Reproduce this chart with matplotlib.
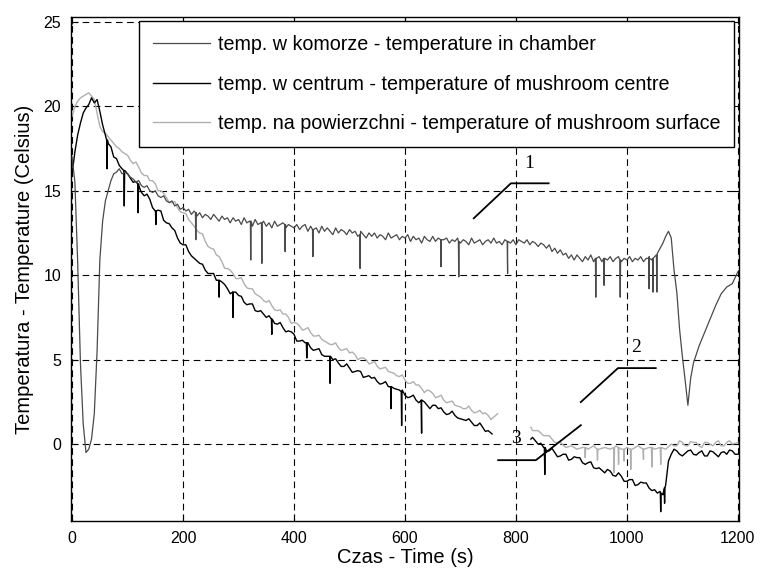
import matplotlib
matplotlib.use("Agg")
import matplotlib.pyplot as plt

# time axis (s) and readings (deg C)
chamber_t = ([0, 5, 10, 15, 20, 25, 30, 35, 40, 45, 50, 55, 60, 65, 70, 75, 80, 85, 90, 95]
             + list(range(100, 1051, 5))
             + [1055, 1060, 1065, 1070, 1075, 1080, 1085, 1090, 1095, 1100, 1105, 1110,
                1115, 1120, 1125, 1130, 1140, 1150, 1160, 1170, 1180, 1190, 1200])
chamber_v = [17.0, 15.5, 10.8, 4.8, 1.2, -0.5, -0.3, 0.3, 1.8, 5.5, 10.9, 13.2, 14.4, 15.0, 15.6,
             16.0, 16.1, 16.3, 16.0, 16.1,
             16.0, 15.8, 15.7, 15.5, 15.6, 15.3, 15.2, 15.3, 15.0, 14.9,
             15.0, 14.7, 14.6, 14.7, 14.4, 14.3, 14.4, 14.1, 14.2, 13.9,
             14.0, 13.8, 13.9, 13.6, 13.8, 13.5, 13.7, 13.4, 13.6, 13.5,
             13.3, 13.6, 13.4, 13.2, 13.5, 13.3, 13.4, 13.1, 13.4, 13.2,
             13.3, 13.0, 13.4, 13.1, 13.2, 12.9, 13.3, 13.0, 13.1, 13.2,
             12.9, 13.1, 12.8, 13.2, 12.9, 13.0, 13.1, 12.8, 13.0, 12.9,
             12.8, 13.0, 12.7, 12.9, 13.0, 12.6, 12.9, 12.7, 12.8, 12.5,
             12.9, 12.6, 12.8, 12.6, 12.4, 12.8, 12.5, 12.7, 12.6, 12.4,
             12.7, 12.5, 12.6, 12.3, 12.6, 12.4, 12.2, 12.5, 12.3, 12.5,
             12.2, 12.4, 12.3, 12.1, 12.5, 12.2, 12.3, 12.4, 12.1, 12.3,
             12.2, 12.4, 12.0, 12.3, 12.1, 12.2, 11.9, 12.3, 12.1, 12.0,
             12.3, 12.0, 12.2, 11.9, 12.1, 12.2, 11.9, 12.1, 12.0, 12.2,
             11.9, 12.1, 12.0, 11.8, 12.2, 11.9, 12.0, 12.1, 11.8, 12.0,
             12.1, 11.9, 12.2, 11.9, 12.0, 11.8, 12.1, 12.0, 11.9, 12.1,
             11.8, 12.1, 12.0, 11.9, 12.1, 11.8, 12.0, 11.9, 11.7, 11.9,
             11.8, 11.6, 11.8, 11.4, 11.6, 11.3, 11.5, 11.2, 11.3, 11.0,
             11.2, 10.9, 11.2, 11.0, 10.8, 11.1, 10.9, 11.2, 10.8, 11.0,
             11.1, 10.8, 11.0, 10.9, 11.1, 10.8, 11.0, 11.1, 10.8, 11.0,
             10.9, 11.1, 10.8, 11.0, 10.9, 11.1, 10.8, 11.0, 11.1, 10.9, 11.1,
             11.3, 11.6, 11.9, 12.3, 12.6, 12.2, 10.3, 9.0, 6.8, 5.2, 3.8, 2.3,
             3.9, 4.8, 5.3, 5.8, 6.6, 7.4, 8.2, 8.9, 9.3, 9.5, 10.2]
# spikes: (time, level around it, tip of the spike)
chamber_spikes = [(223, 13.7, 12.1), (322, 13.2, 10.9), (342, 13.1, 10.7), (384, 13.0, 11.4),
                  (434, 12.7, 11.1), (519, 12.4, 10.4), (665, 12.1, 10.5), (697, 12.0, 9.9),
                  (785, 12.0, 10.1), (944, 11.0, 8.7), (959, 11.0, 9.4), (988, 10.9, 8.7),
                  (1040, 11.0, 9.2), (1047, 11.0, 9.0), (1054, 11.2, 9.0)]

centre_t1 = ([0, 5, 10, 15, 20, 25, 30, 35, 40, 45, 50, 55, 60, 65, 70, 75, 80, 85, 90]
             + list(range(100, 751, 10)) + [757])
centre_v1 = [16.0, 17.3, 18.3, 19.0, 19.6, 19.9, 20.1, 20.5, 20.2, 20.4, 19.7, 18.9, 18.3, 17.8,
             17.6, 17.0, 16.9, 16.5, 16.3,
             16.0, 15.5, 15.3, 14.7, 14.5, 13.8, 13.8, 13.1, 12.8, 12.2,
             11.8, 11.4, 11.0, 10.7, 10.3, 10.1, 9.7, 9.6, 9.2, 9.0,
             8.8, 8.4, 8.3, 7.9, 7.9, 7.5, 7.4, 7.1, 6.9, 6.7,
             6.5, 6.1, 6.0, 5.7, 5.6, 5.3, 5.2, 5.0, 4.8, 4.6,
             4.5, 4.3, 4.3, 4.0, 3.9, 3.7, 3.6, 3.4, 3.3, 3.2,
             2.9, 2.8, 2.6, 2.6, 2.3, 2.3, 2.1, 1.9, 1.8, 1.7,
             1.5, 1.4, 1.3, 1.1, 1.0, 0.8, 0.6]
centre_t2 = ([827] + list(range(830, 1051, 10)) + [1055, 1060, 1065, 1070, 1075]
             + list(range(1080, 1201, 10)))
centre_v2 = [0.3, 0.4, 0.0, -0.2, -0.4, -0.5, -0.7, -0.6, -0.9, -0.8, -1.1, -1.1, -1.4, -1.4,
             -1.7, -1.6, -1.9, -1.9, -2.2, -2.1, -2.4, -2.3, -2.6, -2.7,
             -2.9, -2.8, -3.0, -2.4, -1.0,
             -0.6, -0.4, -0.7, -0.4, -0.6, -0.5, -0.7, -0.4, -0.6, -0.5, -0.6, -0.4, -0.6]
# fine wiggle of the curves, added between the 10 s readings
centre_wiggle = [0.0, 0.15, -0.1, 0.2, -0.15, 0.05, -0.2, 0.1, 0.15, -0.1, 0.2, -0.05]
centre_spikes = [(63, 18.0, 16.3), (94, 16.2, 14.1), (119, 15.4, 13.7), (151, 13.8, 13.0),
                 (265, 9.7, 8.7), (290, 9.0, 7.5), (360, 7.4, 6.5), (423, 6.0, 5.1),
                 (465, 5.2, 3.6), (575, 3.4, 2.1), (594, 3.1, 1.1), (630, 2.6, 0.65),
                 (852, -0.2, -1.8), (1061, -2.9, -4.0), (1068, -2.6, -3.5)]

surface_t1 = ([0, 5, 10, 15, 20, 25, 30, 35, 40, 45, 50, 55, 60, 65, 70, 75, 80, 85, 90]
              + list(range(100, 761, 10)) + [767])
surface_v1 = [19.4, 20.0, 20.3, 20.5, 20.6, 20.7, 20.8, 20.6, 20.4, 19.6, 18.8, 18.5, 18.4, 18.2,
              18.0, 17.8, 17.6, 17.5, 17.3,
              17.1, 16.6, 16.4, 15.9, 15.6, 15.4, 15.0, 14.6, 14.3, 14.0,
              13.7, 13.3, 12.9, 12.5, 12.0, 11.6, 11.2, 10.8, 10.4, 10.1,
              9.8, 9.5, 9.2, 8.9, 8.7, 8.4, 8.2, 7.9, 7.7, 7.5,
              7.2, 7.0, 6.8, 6.6, 6.4, 6.2, 6.0, 5.9, 5.7, 5.6,
              5.4, 5.3, 5.1, 5.0, 4.8, 4.6, 4.5, 4.3, 4.2, 4.0,
              3.8, 3.6, 3.5, 3.3, 3.2, 3.0, 2.8, 2.6, 2.5, 2.3,
              2.2, 2.1, 2.0, 1.9, 1.8, 1.7, 1.6, 1.8]
surface_t2 = [827] + list(range(830, 1201, 10))
surface_v2 = [1.0, 0.8, 0.8, 0.5, 0.5, 0.1, 0.1, -0.2, -0.1, -0.3, -0.2, -0.3, -0.1, -0.3, -0.2,
              -0.3, -0.1, -0.3, -0.2, -0.3, -0.1, -0.3, -0.2, -0.3, -0.2, -0.3, 0.0, -0.1, 0.1,
              -0.1, 0.1, -0.1, 0.1, 0.0, 0.1, -0.1, 0.1, 0.0, 0.1]
surface_spikes = [(925, -0.2, -0.8), (947, -0.3, -0.95), (977, -0.2, -1.7), (985, -0.2, -1.2),
                  (995, -0.3, -1.0), (1007, -0.3, -1.5), (1030, -0.3, -0.9), (1045, -0.2, -1.35),
                  (1061, -0.2, -1.2)]

labels = ['temp. w komorze - temperature in chamber',
          'temp. w centrum - temperature of mushroom centre',
          'temp. na powierzchni - temperature of mushroom surface']


def add_wiggle(t, v, wiggle, start=100, stop=760):
    # midpoints between the 10 s readings, pushed by the listed wiggle
    pts = list(zip(t, v))
    k = 0
    for i in range(len(t) - 1):
        if start <= t[i] < stop and t[i + 1] - t[i] == 10:
            mid = (v[i] + v[i + 1]) / 2 + wiggle[k % len(wiggle)]
            pts.append((t[i] + 5, mid))
            k += 1
    pts.sort()
    return [p[0] for p in pts], [p[1] for p in pts]


def add_spikes(t, v, spikes):
    pts = list(zip(t, v))
    for ts, base, tip in spikes:
        if t[0] <= ts <= t[-1]:
            pts += [(ts - 0.7, base), (ts, tip), (ts + 0.7, base)]
    pts.sort()
    return [p[0] for p in pts], [p[1] for p in pts]


plt.rcParams['font.family'] = ['Liberation Sans', 'DejaVu Sans']
fig = plt.figure(figsize=(7.61, 5.70), dpi=100)
ax = fig.add_axes([0.0933, 0.086, 0.8777, 0.884])

c_chamber, c_centre, c_surface = '#4a4a4a', '#000000', '#b0b0b0'

x, y = add_wiggle(surface_t1, surface_v1, centre_wiggle[::-1])
x, y = add_spikes(x, y, surface_spikes)
ax.plot(x, y, color=c_surface, lw=1.0, zorder=2)
x, y = add_wiggle(surface_t2, surface_v2, centre_wiggle[::-1], 1080, 1200)
x, y = add_spikes(x, y, surface_spikes)
ax.plot(x, y, color=c_surface, lw=1.0, zorder=2)
x, y = add_wiggle(centre_t1, centre_v1, centre_wiggle)
x, y = add_spikes(x, y, centre_spikes)
ax.plot(x, y, color=c_centre, lw=1.0, zorder=3)
x, y = add_wiggle(centre_t2, centre_v2, centre_wiggle, 830, 1200)
x, y = add_spikes(x, y, centre_spikes)
ax.plot(x, y, color=c_centre, lw=1.0, zorder=3)
x, y = add_spikes(chamber_t, chamber_v, chamber_spikes)
ax.plot(x, y, color=c_chamber, lw=0.9, zorder=4)

# legend handles
h1, = ax.plot([], [], color=c_chamber, lw=0.9)
h2, = ax.plot([], [], color=c_centre, lw=1.0)
h3, = ax.plot([], [], color=c_surface, lw=1.0)
leg = ax.legend([h1, h2, h3], labels, loc='upper left', bbox_to_anchor=(0.102, 0.992),
                borderaxespad=0, fontsize=14.2, labelspacing=1.05, handlelength=2.9,
                handletextpad=0.4, borderpad=0.7, fancybox=False, framealpha=1)
leg.get_frame().set_edgecolor('black')
leg.get_frame().set_linewidth(1.0)

# curve numbers with leader lines
serif = ['Liberation Serif', 'DejaVu Serif']
ax.plot([724, 791, 859], [13.37, 15.44, 15.44], color='black', lw=1.3)
ax.text(823, 16.6, '1', fontsize=14, family=serif, ha='center', va='center')
ax.plot([917, 984, 1052], [2.49, 4.5, 4.5], color='black', lw=1.3)
ax.text(1016, 5.74, '2', fontsize=14, family=serif, ha='center', va='center')
ax.plot([768, 836, 917], [-0.95, -0.95, 1.12], color='black', lw=1.3)
ax.text(800, 0.36, '3', fontsize=14, family=serif, ha='center', va='center')

ax.set_xlim(-2, 1202)
ax.set_ylim(-4.55, 25.28)
ax.set_xticks(range(0, 1201, 200))
ax.set_yticks(range(0, 26, 5))
ax.grid(True, color='black', linestyle=(0, (6, 4)), linewidth=0.8)
ax.tick_params(direction='in', length=5, top=True, right=True, labelsize=11.5, pad=7)
for s in ax.spines.values():
    s.set_linewidth(1.0)
ax.set_xlabel('Czas - Time (s)', fontsize=14.5, labelpad=2)
ax.set_ylabel('Temperatura - Temperature (Celsius)', fontsize=14.5, labelpad=7)

fig.savefig('out.png', dpi=100)
